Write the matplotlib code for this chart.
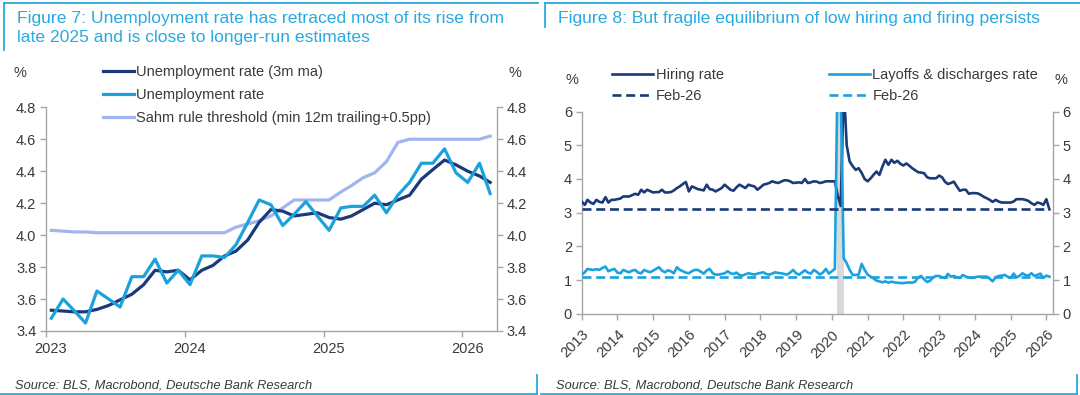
import matplotlib
matplotlib.use('Agg')
import matplotlib.pyplot as plt
import matplotlib.transforms as mtransforms
from matplotlib.lines import Line2D
import pandas as pd

plt.rcParams['font.family'] = ['Liberation Sans', 'DejaVu Sans']

# ---------------- Figure 7 data (monthly, Jan 2023 - Mar 2026) ----------------
ur_start = '2023-01-01'
unemployment_rate = [3.48, 3.60, 3.53, 3.45, 3.65, 3.60, 3.55, 3.74, 3.74, 3.85, 3.70, 3.78,
                     3.69, 3.87, 3.87, 3.86, 3.94, 4.08, 4.22, 4.19, 4.06, 4.13, 4.21, 4.12,
                     4.03, 4.17, 4.18, 4.18, 4.25, 4.14, 4.25, 4.33, 4.45, 4.45, 4.54, 4.39,
                     4.33, 4.45, 4.26]
unemployment_3mma = [3.53, 3.525, 3.52, 3.52, 3.535, 3.56, 3.595, 3.63, 3.69, 3.78, 3.77, 3.78,
                     3.72, 3.78, 3.81, 3.87, 3.90, 3.97, 4.08, 4.16, 4.15, 4.12, 4.13, 4.14,
                     4.11, 4.10, 4.12, 4.16, 4.20, 4.19, 4.22, 4.25, 4.35, 4.41, 4.47, 4.44,
                     4.40, 4.37, 4.33]
sahm_threshold = [4.03, 4.025, 4.02, 4.02, 4.015, 4.015, 4.015, 4.015, 4.015, 4.015, 4.015, 4.015,
                  4.015, 4.015, 4.015, 4.015, 4.05, 4.07, 4.09, 4.12, 4.17, 4.22, 4.22, 4.22,
                  4.22, 4.27, 4.31, 4.36, 4.39, 4.46, 4.58, 4.60, 4.60, 4.60, 4.60, 4.60,
                  4.60, 4.60, 4.62]
fig7_years = [2023, 2024, 2025, 2026]
fig7_yticks = [3.4, 3.6, 3.8, 4.0, 4.2, 4.4, 4.6, 4.8]

# ---------------- Figure 8 data (monthly, Jan 2013 - Feb 2026) ----------------
jolts_start = '2013-01-01'
hiring_rate = [
    3.33, 3.23, 3.38, 3.30, 3.26, 3.38, 3.32, 3.30, 3.46, 3.30, 3.38, 3.38,   # 2013
    3.40, 3.42, 3.48, 3.48, 3.48, 3.52, 3.56, 3.53, 3.68, 3.60, 3.68, 3.64,   # 2014
    3.60, 3.61, 3.61, 3.68, 3.60, 3.60, 3.61, 3.66, 3.73, 3.78, 3.85, 3.91,   # 2015
    3.63, 3.78, 3.74, 3.70, 3.68, 3.66, 3.83, 3.70, 3.68, 3.63, 3.68, 3.73,   # 2016
    3.83, 3.75, 3.68, 3.65, 3.75, 3.83, 3.78, 3.73, 3.83, 3.80, 3.78, 3.68,   # 2017
    3.75, 3.83, 3.85, 3.88, 3.93, 3.90, 3.88, 3.92, 3.96, 3.96, 3.93, 3.88,   # 2018
    3.89, 3.90, 3.88, 4.00, 3.88, 3.90, 3.93, 3.92, 3.88, 3.90, 3.93, 3.93,   # 2019
    3.93, 3.93, 3.50, 3.20, 6.80, 5.00, 4.52, 4.38, 4.27, 4.32, 4.18, 4.00,   # 2020
    3.93, 4.02, 4.12, 4.22, 4.12, 4.37, 4.57, 4.42, 4.57, 4.48, 4.54, 4.45,   # 2021
    4.40, 4.46, 4.40, 4.32, 4.26, 4.20, 4.19, 4.17, 4.05, 4.02, 4.02, 4.02,   # 2022
    4.10, 4.05, 3.92, 3.85, 3.88, 3.92, 3.78, 3.65, 3.68, 3.68, 3.56, 3.58,   # 2023
    3.58, 3.57, 3.53, 3.47, 3.43, 3.38, 3.32, 3.38, 3.33, 3.30, 3.30, 3.30,   # 2024
    3.30, 3.33, 3.40, 3.40, 3.40, 3.38, 3.35, 3.28, 3.23, 3.30, 3.28, 3.23,   # 2025
    3.40, 3.10]                                                               # 2026
layoffs_rate = [
    1.16, 1.23, 1.33, 1.31, 1.30, 1.32, 1.30, 1.36, 1.40, 1.26, 1.30, 1.33,   # 2013
    1.22, 1.20, 1.30, 1.26, 1.23, 1.28, 1.30, 1.22, 1.20, 1.30, 1.26, 1.23,   # 2014
    1.28, 1.33, 1.38, 1.28, 1.23, 1.29, 1.26, 1.20, 1.38, 1.30, 1.26, 1.22,   # 2015
    1.20, 1.26, 1.30, 1.30, 1.25, 1.19, 1.28, 1.33, 1.20, 1.16, 1.16, 1.18,   # 2016
    1.20, 1.26, 1.20, 1.18, 1.22, 1.15, 1.13, 1.17, 1.20, 1.18, 1.16, 1.19,   # 2017
    1.21, 1.23, 1.18, 1.16, 1.19, 1.23, 1.21, 1.20, 1.18, 1.16, 1.22, 1.30,   # 2018
    1.20, 1.16, 1.22, 1.29, 1.22, 1.19, 1.30, 1.24, 1.16, 1.22, 1.33, 1.19,   # 2019
    1.26, 1.33, 7.50, 6.50, 1.65, 1.50, 1.30, 1.15, 1.15, 1.16, 1.48, 1.30,   # 2020
    1.16, 1.10, 1.05, 0.98, 0.96, 0.93, 0.96, 0.92, 0.95, 0.93, 0.92, 0.91,   # 2021
    0.91, 0.92, 0.93, 0.92, 0.95, 1.08, 1.12, 1.02, 0.94, 0.98, 1.08, 1.12,   # 2022
    1.12, 1.08, 1.06, 1.18, 1.10, 1.12, 1.08, 1.06, 1.15, 1.10, 1.08, 1.06,   # 2023
    1.08, 1.10, 1.10, 1.10, 1.10, 1.04, 0.96, 1.08, 1.12, 1.13, 1.15, 1.10,   # 2024
    1.06, 1.19, 1.08, 1.12, 1.20, 1.15, 1.13, 1.20, 1.12, 1.15, 1.19, 1.06,   # 2025
    1.13, 1.10]                                                               # 2026
hiring_feb26 = 3.1
layoffs_feb26 = 1.1
fig8_years = list(range(2013, 2027))
fig8_yticks = [0, 1, 2, 3, 4, 5, 6]
recession = ('2020-02-20', '2020-04-30')

# ---------------- styling ----------------
NAVY = '#1b3a78'
BLUE = '#1ba2de'
SAHM = '#a2b5ef'
FRAME = '#29a9e1'
SPINE = '#a6a6a6'
TXT = '#3a3a3a'
SHADE = '#d9d9d9'

W, H = 1080, 395
fig = plt.figure(figsize=(W / 100, H / 100), dpi=100)


def fx(x):
    return x / W


def fy(y):
    return 1 - y / H


def style_axes(ax):
    ax.spines['top'].set_visible(False)
    for s in ('left', 'right', 'bottom'):
        ax.spines[s].set_color(SPINE)
        ax.spines[s].set_linewidth(1.0)
    ax.tick_params(axis='y', which='both', left=True, right=True, labelleft=True,
                   labelright=True, direction='out', length=4, width=1, color=SPINE,
                   labelcolor=TXT, labelsize=10.5, pad=3)
    ax.tick_params(axis='x', direction='out', length=4, width=1, color=SPINE,
                   labelcolor=TXT, labelsize=10.5)
    ax.set_facecolor('none')


# ---------------- Figure 7 ----------------
ax1 = fig.add_axes([fx(46), fy(331), (497 - 46) / W, (331 - 107.3) / H])
ur_dates = pd.date_range(ur_start, periods=len(unemployment_rate), freq='MS') + pd.Timedelta(days=14)
l_sahm, = ax1.plot(ur_dates, sahm_threshold, color=SAHM, lw=2.3, zorder=2,
                   label='Sahm rule threshold (min 12m trailing+0.5pp)')
l_ma, = ax1.plot(ur_dates, unemployment_3mma, color=NAVY, lw=2.3, zorder=3,
                 label='Unemployment rate (3m ma)')
l_ur, = ax1.plot(ur_dates, unemployment_rate, color=BLUE, lw=2.3, zorder=4,
                 label='Unemployment rate')
ax1.set_xlim(pd.Timestamp('2023-01-01'), pd.Timestamp('2026-04-02'))
ax1.set_ylim(3.4, 4.8)
ax1.set_yticks(fig7_yticks)
ax1.set_yticklabels([f'{v:.1f}' for v in fig7_yticks])
ax1.set_xticks([pd.Timestamp(f'{y}-01-01') for y in fig7_years])
ax1.set_xticklabels([str(y) for y in fig7_years])
style_axes(ax1)
ax1.tick_params(axis='x', pad=4)
off = mtransforms.ScaledTranslation(5 / 100, 0, fig.dpi_scale_trans)
for lab in ax1.get_xticklabels():
    lab.set_transform(lab.get_transform() + off)

leg1 = fig.legend(handles=[l_ma, l_ur, l_sahm], loc='upper left',
                  bbox_to_anchor=(fx(103), fy(65)), frameon=False, fontsize=10.5,
                  handlelength=2.1, handletextpad=0.15, labelspacing=0.62,
                  borderpad=0, borderaxespad=0)
for t in leg1.get_texts():
    t.set_color(TXT)

fig.text(fx(20), fy(73), '%', ha='center', va='center', fontsize=10.5, color=TXT)
fig.text(fx(515), fy(73), '%', ha='center', va='center', fontsize=10.5, color=TXT)

# ---------------- Figure 8 ----------------
ax2 = fig.add_axes([fx(581.7), fy(313.7), (1053 - 581.7) / W, (313.7 - 111.6) / H])
jd = pd.date_range(jolts_start, periods=len(hiring_rate), freq='MS')
ax2.axvspan(pd.Timestamp(recession[0]), pd.Timestamp(recession[1]), color=SHADE, lw=0, zorder=1)
l_h, = ax2.plot(jd, hiring_rate, color=NAVY, lw=1.9, zorder=3, label='Hiring rate')
l_l, = ax2.plot(jd, layoffs_rate, color=BLUE, lw=1.9, zorder=4, label='Layoffs & discharges rate')
l_hf, = ax2.plot([jd[0], jd[-1]], [hiring_feb26, hiring_feb26], color=NAVY, lw=1.9,
                 ls=(0, (3.4, 1.8)), zorder=5, label='Feb-26')
l_lf, = ax2.plot([jd[0], jd[-1]], [layoffs_feb26, layoffs_feb26], color=BLUE, lw=1.9,
                 ls=(0, (3.4, 1.8)), zorder=5, label='Feb-26')
ax2.set_xlim(pd.Timestamp('2013-01-01'), pd.Timestamp('2026-03-10'))
ax2.set_ylim(0, 6)
ax2.set_yticks(fig8_yticks)
ax2.set_yticklabels([str(v) for v in fig8_yticks])
ax2.set_xticks([pd.Timestamp(f'{y}-01-01') for y in fig8_years])
ax2.set_xticklabels([str(y) for y in fig8_years], rotation=45, ha='right',
                    rotation_mode='anchor')
style_axes(ax2)
ax2.tick_params(axis='x', pad=6)

leg2 = fig.legend(handles=[l_h, l_hf, l_l, l_lf], loc='upper left', ncol=2,
                  bbox_to_anchor=(fx(612), fy(68)), frameon=False, fontsize=10.5,
                  handlelength=2.8, handletextpad=0.2, labelspacing=0.5,
                  columnspacing=7.2, borderpad=0, borderaxespad=0)
for t in leg2.get_texts():
    t.set_color(TXT)

fig.text(fx(572), fy(80), '%', ha='center', va='center', fontsize=10.5, color=TXT)
fig.text(fx(1061), fy(80), '%', ha='center', va='center', fontsize=10.5, color=TXT)

# ---------------- titles, sources, frames ----------------
fig.text(fx(17), fy(11), 'Figure 7: Unemployment rate has retraced most of its rise from\n'
         'late 2025 and is close to longer-run estimates',
         ha='left', va='top', fontsize=12.6, color=FRAME, linespacing=1.3)
fig.text(fx(558), fy(11), 'Figure 8: But fragile equilibrium of low hiring and firing persists',
         ha='left', va='top', fontsize=12.6, color=FRAME)

for x0 in (15, 556):
    fig.text(fx(x0), fy(385), 'Source: BLS, Macrobond, Deutsche Bank Research',
             ha='left', va='center', fontsize=9.3, style='italic', color=TXT)


def fline(xs, ys, lw=1.3):
    fig.add_artist(Line2D([fx(x) for x in xs], [fy(y) for y in ys],
                          transform=fig.transFigure, color=FRAME, lw=lw))


# top frames
fline([4, 538], [3, 3])
fline([4, 4], [3, 50])
fline([545, 1080], [3, 3])
fline([545, 545], [3, 27])
# bottom frames
fline([0, 537], [393.5, 393.5])
fline([537, 537], [375, 393.5])
fline([541, 1077], [393.5, 393.5])
fline([1077, 1077], [375, 393.5])

fig.savefig('out.png', dpi=100)
